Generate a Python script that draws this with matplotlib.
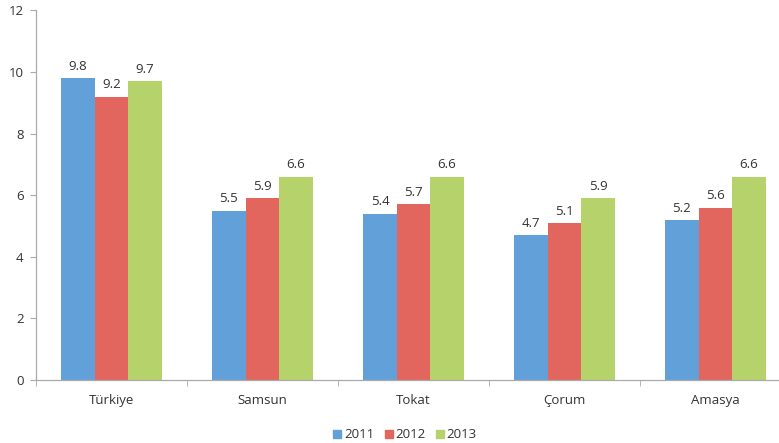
import matplotlib
matplotlib.use("Agg")
import matplotlib.pyplot as plt
import numpy as np

categories = ["Türkiye", "Samsun", "Tokat", "Çorum", "Amasya"]
years = ["2011", "2012", "2013"]
v2011 = [9.8, 5.5, 5.4, 4.7, 5.2]
v2012 = [9.2, 5.9, 5.7, 5.1, 5.6]
v2013 = [9.7, 6.6, 6.6, 5.9, 6.6]
colors = ["#62a0da", "#e2665e", "#b6d36b"]

plt.rcParams['font.family'] = ['Open Sans', 'DejaVu Sans']

W, H = 779, 443
fig = plt.figure(figsize=(W / 100, H / 100), dpi=100)
left, right, top, bottom = 36, 791, 10.4, 380
ax = fig.add_axes([left / W, 1 - bottom / H, (right - left) / W, (bottom - top) / H])

x = np.arange(len(categories))
bw = 0.222
series = [v2011, v2012, v2013]
for i, (vals, c, yr) in enumerate(zip(series, colors, years)):
    xs = x + (i - 1) * bw
    ax.bar(xs, vals, width=bw, color=c, label=yr, edgecolor='none')
    for xi, v in zip(xs, vals):
        ax.text(xi, v + 0.17, f"{v:.1f}", ha='center', va='bottom', fontsize=9.5, color='#333333')

ax.set_xlim(-0.5, len(categories) - 0.5)
ax.set_ylim(0, 12)
ax.set_yticks(range(0, 13, 2))
ax.set_xticks(x)
ax.set_xticklabels(categories)
ax.set_xticks(np.arange(-0.5, len(categories), 1), minor=True)
ax.tick_params(axis='x', which='major', length=0, pad=10, labelsize=9.5, labelcolor='#333333')
ax.tick_params(axis='x', which='minor', length=4, color='#aaaaaa', direction='out')
ax.tick_params(axis='y', length=4, color='#aaaaaa', labelsize=9.5, labelcolor='#333333', pad=5)
for s in ['top', 'right']:
    ax.spines[s].set_visible(False)
for s in ['left', 'bottom']:
    ax.spines[s].set_color('#aaaaaa')
    ax.spines[s].set_linewidth(0.9)

handles = [plt.Rectangle((0, 0), 1, 1, color=c) for c in colors]
fig.legend(handles, years, loc='center', bbox_to_anchor=(405 / W, 1 - 435 / H), ncol=3,
           frameon=False, handlelength=0.6, handleheight=0.6, handletextpad=0.2,
           columnspacing=0.8, fontsize=9.5, labelcolor='#333333')

fig.savefig("out.png", dpi=100)
